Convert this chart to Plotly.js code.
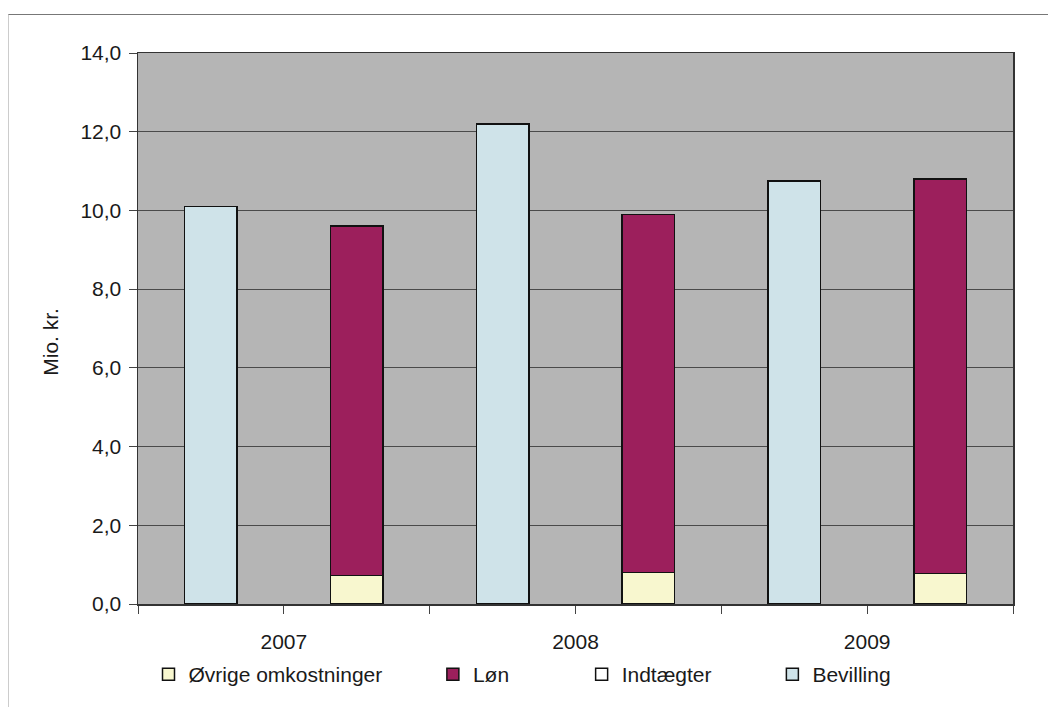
<!DOCTYPE html>
<html>
<head>
<meta charset="utf-8">
<script src="https://cdn.plot.ly/plotly-3.0.1.min.js"></script>
<style>
  html, body { margin: 0; padding: 0; background: #fff; }
  #frame { position: absolute; left: 8px; top: 14px; width: 1040px; height: 693px;
           border-top: 1.5px solid #777; border-left: 1px solid #ccc; }
  #chart { position: absolute; left: 0; top: 0; width: 1048px; height: 707px; }
</style>
</head>
<body>
<div id="frame"></div>
<div id="chart"></div>
<script>
const years = ['2007', '2008', '2009'];
const bevilling = [10.1, 12.2, 10.75];
const indtaegter = [0, 0, 0];
const loen = [8.87, 9.1, 10.02];
const oevrige = [0.73, 0.8, 0.78];
const yTitle = 'Mio. kr.';

const xBev = years.map((_, i) => 2 * i + 0.5);
const xUdg = years.map((_, i) => 2 * i + 1.5);
const tickPos = years.map((_, i) => 2 * i + 1);

const line = { color: '#111', width: 1.5 };
const barW = 0.36;

const traces = [
  { type: 'bar', name: 'Øvrige omkostninger', x: xUdg, y: oevrige, width: barW,
    marker: { color: '#f8f7cf', line: line }, legend: 'legend' },
  { type: 'bar', name: 'Løn', x: xUdg, y: loen, width: barW,
    marker: { color: '#9c1f5c', line: line }, legend: 'legend2' },
  { type: 'bar', name: 'Indtægter', x: xBev, y: indtaegter, width: barW,
    marker: { color: '#ffffff', line: line }, legend: 'legend3' },
  { type: 'bar', name: 'Bevilling', x: xBev, y: bevilling, width: barW,
    marker: { color: '#cfe3e9', line: line }, legend: 'legend4' }
];

const legFont = { family: 'Liberation Sans, Arial, sans-serif', size: 21, color: '#1a1a1a' };
function leg(x) {
  return { x: x, y: -0.128, xanchor: 'left', yanchor: 'middle', orientation: 'h',
           font: legFont, bgcolor: 'rgba(0,0,0,0)', itemclick: false };
}

const layout = {
  width: 1048, height: 707,
  margin: { l: 138, r: 35, t: 53, b: 101 },
  paper_bgcolor: 'rgba(0,0,0,0)',
  plot_bgcolor: '#b5b5b5',
  barmode: 'stack',
  separators: ',.',
  font: { family: 'Liberation Sans, Arial, sans-serif', size: 21, color: '#1a1a1a' },
  xaxis: {
    range: [0, 6],
    tickmode: 'array', tickvals: tickPos, ticktext: years,
    ticks: 'outside', ticklen: 8, tickcolor: '#444', tickwidth: 1,
    minor: { tickmode: 'linear', tick0: 0, dtick: 1, ticks: 'outside', ticklen: 8, tickcolor: '#444', tickwidth: 1, showgrid: false },
    showgrid: false, zeroline: false,
    showline: true, linecolor: '#333', linewidth: 1.5, mirror: true,
    ticklabelstandoff: 10,
    tickfont: { size: 21 }
  },
  yaxis: {
    range: [0, 14], dtick: 2, tickformat: '.1f',
    ticks: 'outside', ticklen: 8, tickcolor: '#444',
    showgrid: true, gridcolor: '#4a4a4a', gridwidth: 1,
    zeroline: false,
    showline: true, linecolor: '#333', linewidth: 1.5, mirror: true,
    ticklabelstandoff: 3,
    tickfont: { size: 21 }
  },
  annotations: [{
    text: yTitle, textangle: -90, xref: 'paper', yref: 'paper',
    x: -0.1, y: 0.475, xanchor: 'center', yanchor: 'middle', showarrow: false,
    font: { size: 21 }
  }],
  legend: leg(0.012),
  legend2: leg(0.337),
  legend3: leg(0.507),
  legend4: leg(0.725),
  showlegend: true
};

Plotly.newPlot('chart', traces, layout, { displayModeBar: false, staticPlot: true });
</script>
</body>
</html>
